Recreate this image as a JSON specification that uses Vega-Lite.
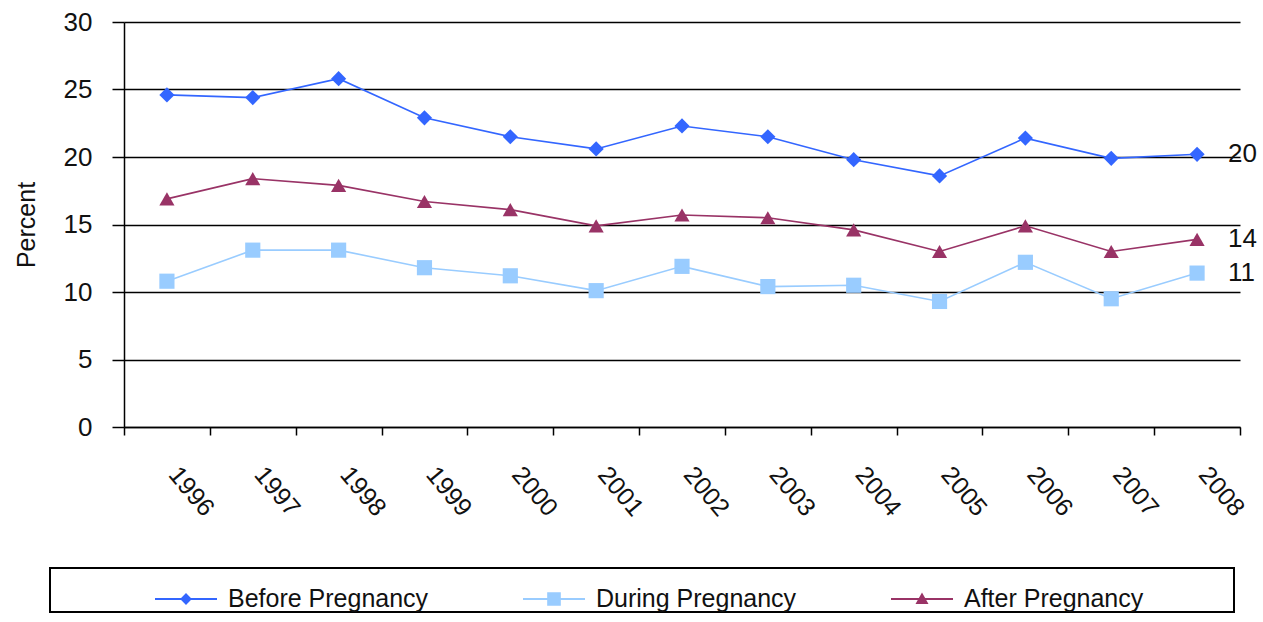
{
  "$schema": "https://vega.github.io/schema/vega-lite/v6.json",
  "autosize": "none",
  "width": 1116,
  "height": 405,
  "padding": {"left": 124, "top": 22, "right": 23, "bottom": 195},
  "background": "white",
  "config": {
    "font": "Liberation Sans",
    "view": {"stroke": null},
    "legend": {"strokeWidth": 2}
  },
  "data": {
    "values": [
      {"year": "1996", "series": "Before Pregnancy", "value": 24.6},
      {"year": "1997", "series": "Before Pregnancy", "value": 24.4},
      {"year": "1998", "series": "Before Pregnancy", "value": 25.8},
      {"year": "1999", "series": "Before Pregnancy", "value": 22.9},
      {"year": "2000", "series": "Before Pregnancy", "value": 21.5},
      {"year": "2001", "series": "Before Pregnancy", "value": 20.6},
      {"year": "2002", "series": "Before Pregnancy", "value": 22.3},
      {"year": "2003", "series": "Before Pregnancy", "value": 21.5},
      {"year": "2004", "series": "Before Pregnancy", "value": 19.8},
      {"year": "2005", "series": "Before Pregnancy", "value": 18.6},
      {"year": "2006", "series": "Before Pregnancy", "value": 21.4},
      {"year": "2007", "series": "Before Pregnancy", "value": 19.9},
      {"year": "2008", "series": "Before Pregnancy", "value": 20.2},
      {"year": "1996", "series": "During Pregnancy", "value": 10.8},
      {"year": "1997", "series": "During Pregnancy", "value": 13.1},
      {"year": "1998", "series": "During Pregnancy", "value": 13.1},
      {"year": "1999", "series": "During Pregnancy", "value": 11.8},
      {"year": "2000", "series": "During Pregnancy", "value": 11.2},
      {"year": "2001", "series": "During Pregnancy", "value": 10.1},
      {"year": "2002", "series": "During Pregnancy", "value": 11.9},
      {"year": "2003", "series": "During Pregnancy", "value": 10.4},
      {"year": "2004", "series": "During Pregnancy", "value": 10.5},
      {"year": "2005", "series": "During Pregnancy", "value": 9.3},
      {"year": "2006", "series": "During Pregnancy", "value": 12.2},
      {"year": "2007", "series": "During Pregnancy", "value": 9.5},
      {"year": "2008", "series": "During Pregnancy", "value": 11.4},
      {"year": "1996", "series": "After Pregnancy", "value": 16.9},
      {"year": "1997", "series": "After Pregnancy", "value": 18.4},
      {"year": "1998", "series": "After Pregnancy", "value": 17.9},
      {"year": "1999", "series": "After Pregnancy", "value": 16.7},
      {"year": "2000", "series": "After Pregnancy", "value": 16.1},
      {"year": "2001", "series": "After Pregnancy", "value": 14.9},
      {"year": "2002", "series": "After Pregnancy", "value": 15.7},
      {"year": "2003", "series": "After Pregnancy", "value": 15.5},
      {"year": "2004", "series": "After Pregnancy", "value": 14.6},
      {"year": "2005", "series": "After Pregnancy", "value": 13.0},
      {"year": "2006", "series": "After Pregnancy", "value": 14.9},
      {"year": "2007", "series": "After Pregnancy", "value": 13.0},
      {"year": "2008", "series": "After Pregnancy", "value": 13.9}
    ]
  },
  "encoding": {
    "x": {
      "field": "year",
      "type": "ordinal",
      "scale": {"type": "band", "paddingInner": 0, "paddingOuter": 0},
      "axis": {
        "title": null,
        "tickBand": "extent",
        "domainColor": "#000000",
        "domainWidth": 1.5,
        "tickColor": "#000000",
        "tickWidth": 1.5,
        "tickSize": 8,
        "labelAngle": 50,
        "labelAlign": "center",
        "labelBaseline": "middle",
        "labelPadding": 56,
        "labelOffset": 24,
        "labelFontSize": 25,
        "labelColor": "#111111",
        "grid": false
      }
    },
    "y": {
      "field": "value",
      "type": "quantitative",
      "scale": {"domain": [0, 30], "nice": false, "zero": true},
      "axis": {
        "title": "Percent",
        "titleFontSize": 25,
        "titleFontWeight": "normal",
        "titleColor": "#111111",
        "titlePadding": 24,
        "values": [0, 5, 10, 15, 20, 25, 30],
        "grid": true,
        "gridColor": "#000000",
        "gridWidth": 1.5,
        "domainColor": "#000000",
        "domainWidth": 1.5,
        "tickColor": "#000000",
        "tickWidth": 1.5,
        "tickSize": 12,
        "labelPadding": 20,
        "labelFontSize": 26,
        "labelColor": "#111111"
      }
    }
  },
  "layer": [
    {
      "mark": {"type": "line", "strokeWidth": 1.6},
      "encoding": {
        "color": {
          "field": "series",
          "type": "nominal",
          "scale": {
            "domain": ["Before Pregnancy", "During Pregnancy", "After Pregnancy"],
            "range": ["#3366FF", "#99CCFF", "#993366"]
          },
          "legend": null
        }
      }
    },
    {
      "mark": {"type": "point", "filled": true, "opacity": 1, "size": 230},
      "encoding": {
        "color": {"field": "series", "type": "nominal", "legend": null},
        "shape": {
          "field": "series",
          "type": "nominal",
          "scale": {
            "domain": ["Before Pregnancy", "During Pregnancy", "After Pregnancy"],
            "range": ["diamond", "square", "triangle-up"]
          },
          "legend": null
        }
      }
    },
    {
      "transform": [{"filter": "datum.year == '2008'"}],
      "mark": {"type": "text", "align": "left", "baseline": "middle", "dx": 31, "fontSize": 26, "color": "#111111"},
      "encoding": {
        "text": {"field": "value", "type": "quantitative", "format": ".0f"}
      }
    },
    {
      "transform": [{"filter": "datum.year == '2008'"}],
      "mark": {"type": "point", "filled": true, "opacity": 0, "size": 3844},
      "encoding": {
        "color": {
          "field": "series",
          "type": "nominal",
          "legend": {
            "orient": "none",
            "legendX": -74,
            "legendY": 546,
            "direction": "horizontal",
            "columns": 3,
            "columnPadding": 94,
            "padding": 0,
            "strokeColor": "#000000",
            "fillColor": "#ffffff",
            "title": "\u00a0",
            "titleOrient": "left",
            "titleFontSize": 1,
            "titleLimit": 0,
            "titlePadding": 105,
            "symbolSize": 3844,
            "symbolStrokeWidth": 0,
            "symbolOpacity": 1,
            "labelOffset": 11,
            "labelFontSize": 25,
            "labelColor": "#111111",
            "labelLimit": 0,
            "labelExpr": "datum.label == 'After Pregnancy' ? datum.label + '\u00a0\u00a0\u00a0\u00a0\u00a0\u00a0\u00a0\u00a0\u00a0\u00a0\u00a0\u00a0\u00a0\u200b' : datum.label"
          }
        },
        "shape": {
          "field": "series",
          "type": "nominal",
          "scale": {
            "domain": ["Before Pregnancy", "During Pregnancy", "After Pregnancy"],
            "range": [
              "M-1,-0.035H1V0.035H-1Z M0,-0.19L0.19,0L0,0.19L-0.19,0Z",
              "M-1,-0.035H1V0.035H-1Z M-0.22,-0.22H0.22V0.22H-0.22Z",
              "M-1,-0.035H1V0.035H-1Z M0,-0.21L0.21,0.16H-0.21Z"
            ]
          },
          "legend": {
            "orient": "none",
            "legendX": -74,
            "legendY": 546,
            "direction": "horizontal",
            "columns": 3,
            "columnPadding": 94,
            "padding": 0,
            "strokeColor": "#000000",
            "fillColor": "#ffffff",
            "title": "\u00a0",
            "titleOrient": "left",
            "titleFontSize": 1,
            "titleLimit": 0,
            "titlePadding": 105,
            "symbolSize": 3844,
            "symbolStrokeWidth": 0,
            "symbolOpacity": 1,
            "labelOffset": 11,
            "labelFontSize": 25,
            "labelColor": "#111111",
            "labelLimit": 0,
            "labelExpr": "datum.label == 'After Pregnancy' ? datum.label + '\u00a0\u00a0\u00a0\u00a0\u00a0\u00a0\u00a0\u00a0\u00a0\u00a0\u00a0\u00a0\u00a0\u200b' : datum.label"
          }
        }
      }
    }
  ],
  "resolve": {
    "scale": {"shape": "independent"},
    "legend": {"color": "independent"}
  }
}
